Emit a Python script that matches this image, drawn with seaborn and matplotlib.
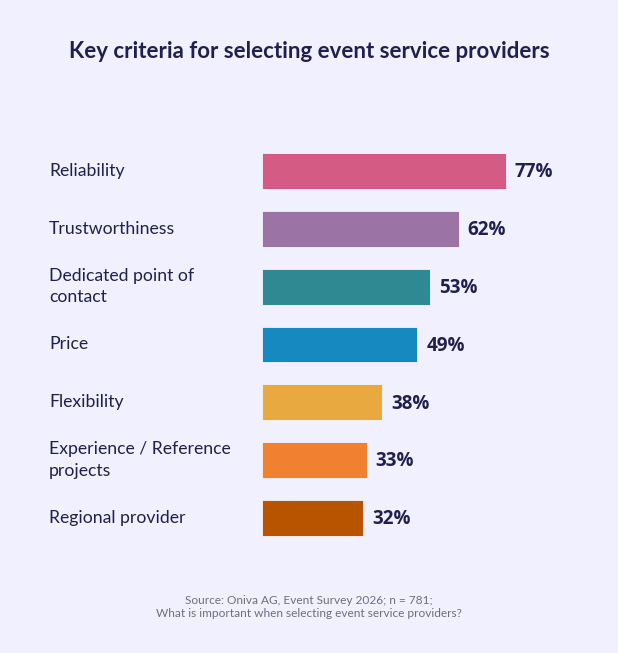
import pandas as pd
import matplotlib
matplotlib.use('Agg')
import matplotlib.pyplot as plt
import seaborn as sns

# Chart data
criteria = ['Reliability', 'Trustworthiness', 'Dedicated point of\ncontact', 'Price',
            'Flexibility', 'Experience / Reference\nprojects', 'Regional provider']
shares = [77, 62, 53, 49, 38, 33, 32]
bar_colors = ['#D45B84', '#9B74A5', '#2F8992', '#1689C1', '#E8A941', '#F08130', '#B85300']

bg = '#F0F0FE'
navy = '#221F4D'

df = pd.DataFrame({'criterion': criteria, 'share': shares})

sns.set_theme(style='white')
plt.rcParams['font.family'] = ['Lato', 'DejaVu Sans']

fig = plt.figure(figsize=(6.18, 6.53), dpi=100, facecolor=bg)
ax = fig.add_axes([262 / 618, 1 - 547 / 653, 1 - 262 / 618, 405 / 653])
ax.set_facecolor(bg)

sns.barplot(data=df, x='share', y='criterion', hue='criterion', palette=bar_colors,
            saturation=1, legend=False, width=0.62, ax=ax, edgecolor='#F4F4FF', linewidth=0.6)

ax.set_xlim(0, 112.3)
ax.set_ylim(6.5, -0.5)
ax.set_xticks([])
ax.set_yticks([])
ax.set_xlabel('')
ax.set_ylabel('')
for s in ax.spines.values():
    s.set_visible(False)

# value labels
for i, v in enumerate(shares):
    ax.text(v + 2.8, i + 0.02, f'{v}%', va='center', ha='left', fontsize=13.5,
            fontweight='bold', color=navy, family=['Open Sans', 'DejaVu Sans'])

# category labels, left aligned
for i, c in enumerate(criteria):
    y = 1 - (171 + i * 57.8) / 653
    fig.text(49 / 618, y, c, ha='left', va='center', fontsize=12.7, color=navy,
             linespacing=1.4)

fig.text(0.5, 1 - 52 / 653, 'Key criteria for selecting event service providers',
         ha='center', va='center', fontsize=16, fontweight='bold', color=navy)

fig.text(0.5, 1 - 607 / 653,
         'Source: Oniva AG, Event Survey 2026; n = 781;\nWhat is important when selecting event service providers?',
         ha='center', va='center', fontsize=8.6, color='#6E6E80', linespacing=1.25)

fig.savefig('out.png', dpi=100, facecolor=bg)
